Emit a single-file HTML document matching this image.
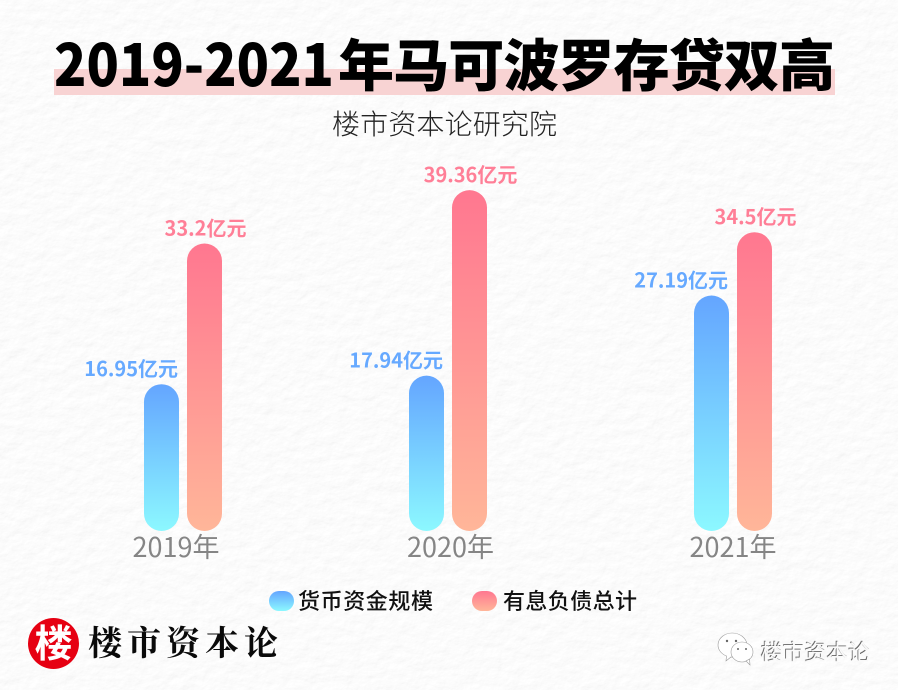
<!DOCTYPE html>
<html lang="zh">
<head>
<meta charset="utf-8">
<title>2019-2021年马可波罗存贷双高</title>
<style>
html,body{margin:0;padding:0;background:#f4f4f4;}
#stage{display:block;width:898px;height:690px;}
text{font-family:"Noto Sans CJK SC","Liberation Sans",sans-serif;}
.serif{font-family:"Noto Serif CJK SC","Liberation Serif",serif;}
</style>
</head>
<body>
<svg id="stage" xmlns="http://www.w3.org/2000/svg" width="898" height="690" viewBox="0 0 898 690">
  <defs>
    <filter id="paper" x="0" y="0" width="100%" height="100%">
      <feTurbulence type="fractalNoise" baseFrequency="0.07 0.09" numOctaves="5" seed="11" result="n"/>
      <feDiffuseLighting in="n" lighting-color="#ffffff" surfaceScale="0.55" diffuseConstant="1.02">
        <feDistantLight azimuth="60" elevation="72"/>
      </feDiffuseLighting>
    </filter>
    <linearGradient id="grad-blue" x1="0" y1="0" x2="0" y2="1">
      <stop offset="0" stop-color="#64a5ff"/>
      <stop offset="1" stop-color="#8cf8ff"/>
    </linearGradient>
    <linearGradient id="grad-red" x1="0" y1="0" x2="0" y2="1">
      <stop offset="0" stop-color="#ff7790"/>
      <stop offset="1" stop-color="#ffb699"/>
    </linearGradient>
    <filter id="emboss" x="-5%" y="-10%" width="110%" height="120%">
      <feDropShadow dx="-0.8" dy="-0.8" stdDeviation="0.3" flood-color="#555555"/>
    </filter>
  </defs>

  <rect x="0" y="0" width="898" height="690" fill="#f4f4f4" filter="url(#paper)"/>

  <rect x="54" y="69" width="781" height="26" fill="#f8d3d3"/>
  <g>
    <text x="54" y="86" font-size="58" font-weight="900" fill="#000" textLength="280" lengthAdjust="spacingAndGlyphs">2019-2021</text>
    <text x="338" y="86" font-size="56" font-weight="900" fill="#000" textLength="497" lengthAdjust="spacing">年马可波罗存贷双高</text>
  </g>
  <text x="332" y="134" font-size="28" font-weight="200" fill="#222" textLength="225" lengthAdjust="spacing">楼市资本论研究院</text>

  <g id="plot"></g>

  <g>
    <g>
      <rect x="269" y="591" width="25" height="20" rx="10" fill="url(#grad-blue)"/>
      <text x="298" y="609" font-size="22" font-weight="500" fill="#111" textLength="135" lengthAdjust="spacing">货币资金规模</text>
    </g>
    <g>
      <rect x="472" y="591" width="25" height="20" rx="10" fill="url(#grad-red)"/>
      <text x="503" y="609" font-size="22" font-weight="500" fill="#111" textLength="134" lengthAdjust="spacing">有息负债总计</text>
    </g>
  </g>

  <g>
    <circle cx="53.5" cy="643.5" r="25.5" fill="#e60012"/>
    <text x="53.5" y="657" font-size="38" font-weight="700" fill="#fff" text-anchor="middle">楼</text>
    <text x="88" y="655" font-size="34" font-weight="700" fill="#0a0a0a" textLength="190" lengthAdjust="spacing" class="serif">楼市资本论</text>
  </g>

  <g>
    <g stroke="#9a9a9a" stroke-width="0.6" fill="#ffffff">
      <path d="M718 645c0-7 7-12 14-12 8 0 14 5 15 11l-8 14-8-1-5 4 0.5-5c-5-2-8.500-6-8.500-11z"/>
      <ellipse cx="742" cy="652" rx="11" ry="10"/>
      <path d="M746 661l4 4-0.500-6z"/>
      <circle cx="727" cy="641" r="1.200" fill="#666" stroke="none"/>
      <circle cx="736" cy="641" r="1.200" fill="#666" stroke="none"/>
      <circle cx="738" cy="649" r="1" fill="#666" stroke="none"/>
      <circle cx="746" cy="649" r="1" fill="#666" stroke="none"/>
    </g>
    <text x="761" y="660" font-size="21.500" fill="#fafafa" textLength="109" lengthAdjust="spacing" filter="url(#emboss)">楼市资本论</text>
  </g>

  <script>
    const categories = ['2019年', '2020年', '2021年'];
    const cashValues = [16.95, 17.94, 27.19];
    const debtValues = [33.2, 39.36, 34.5];
    const valueUnit = '亿元';

    const NS = 'http://www.w3.org/2000/svg';
    const plot = document.getElementById('plot');
    const baseline = 531;
    const barWidth = 35;
    const pxPerUnit = 8.66;

    function yScale(v) { return baseline - v * pxPerUnit; }
    /* Groups are not evenly spaced in the source artwork; the middle group sits left of the even position. */
    function groupLeft(i) { return 144 + 275 * i - (i === 1 ? 10 : 0); }
    function tickCenter(i) { return 176 + 278.5 * i - (i === 1 ? 4 : 0); }

    function addBar(i, v, seriesOffset, gradient, name) {
      const y = yScale(v);
      const r = document.createElementNS(NS, 'rect');
      r.setAttribute('x', groupLeft(i) + seriesOffset);
      r.setAttribute('y', y);
      r.setAttribute('width', barWidth);
      r.setAttribute('height', baseline - y);
      r.setAttribute('rx', barWidth / 2);
      r.setAttribute('fill', 'url(#' + gradient + ')');
      
      
      plot.appendChild(r);
    }

    function addValueLabel(i, v, x, anchor, color, name) {
      const t = document.createElementNS(NS, 'text');
      t.setAttribute('x', x);
      t.setAttribute('y', yScale(v) - 8);
      t.setAttribute('text-anchor', anchor);
      t.setAttribute('font-size', '20');
      t.setAttribute('font-weight', '700');
      t.setAttribute('fill', color);
      
      
      t.textContent = v + valueUnit;
      plot.appendChild(t);
    }

    categories.forEach(function (cat, i) {
      addBar(i, cashValues[i], 0, 'grad-blue', 'cash');
      addBar(i, debtValues[i], 43, 'grad-red', 'debt');
      addValueLabel(i, cashValues[i], groupLeft(i) + barWidth - 1, 'end', '#66a9ff', 'cash');
      addValueLabel(i, debtValues[i], groupLeft(i) + 43 + barWidth / 2 + 1, 'middle', '#ff7f97', 'debt');

      const tick = document.createElementNS(NS, 'text');
      tick.setAttribute('x', tickCenter(i));
      tick.setAttribute('y', 557);
      tick.setAttribute('text-anchor', 'middle');
      tick.setAttribute('font-size', '27');
      tick.setAttribute('fill', '#858585');
      
      
      tick.textContent = cat;
      plot.appendChild(tick);
    });
  </script>
</svg>
</body>
</html>
